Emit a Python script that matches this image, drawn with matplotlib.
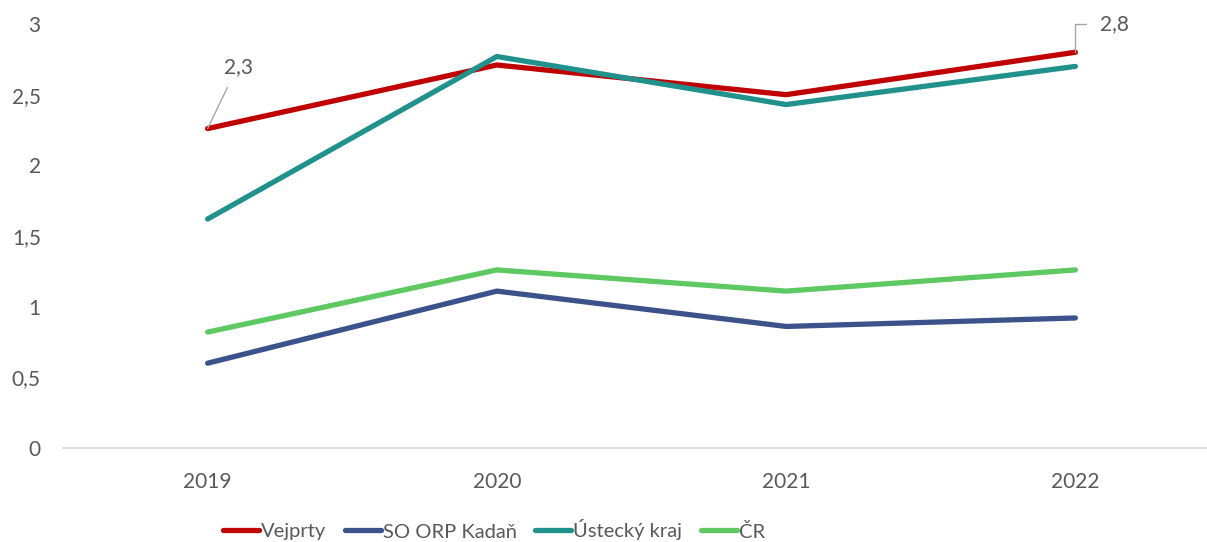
import matplotlib
matplotlib.use("Agg")
import matplotlib.pyplot as plt

# values
years = ["2019", "2020", "2021", "2022"]
vejprty = [2.26, 2.71, 2.50, 2.80]
so_orp_kadan = [0.60, 1.11, 0.86, 0.92]
ustecky_kraj = [1.62, 2.77, 2.43, 2.70]
cr = [0.82, 1.26, 1.11, 1.26]

series_names = ["Vejprty", "SO ORP Kadaň", "Ústecký kraj", "ČR"]
series_colors = ["#C00000", "#3B528B", "#21918C", "#5EC962"]

y_ticks = [0, 0.5, 1, 1.5, 2, 2.5, 3]
y_tick_labels = ["0", "0,5", "1", "1,5", "2", "2,5", "3"]

TEXT_COLOR = "#595959"
LEADER_COLOR = "#A6A6A6"

plt.rcParams["font.family"] = ["Lato", "DejaVu Sans"]

fig = plt.figure(figsize=(12.07, 5.42), dpi=100)
W, H = 1207.0, 542.0
# plot area runs past the right edge, like the cropped reference
ax = fig.add_axes([63 / W, 1 - 448 / H, (1220 - 63) / W, (448 - 24) / H])

x = list(range(len(years)))
all_series = [vejprty, so_orp_kadan, ustecky_kraj, cr]
for values, name, color in zip(all_series, series_names, series_colors):
    ax.plot(x, values, color=color, linewidth=3.8, solid_capstyle="round",
            label=name, clip_on=False)

ax.set_xlim(-0.5, 3.5)
ax.set_ylim(0, 3)
ax.set_xticks(x)
ax.set_xticklabels(years)
ax.set_yticks(y_ticks)
ax.set_yticklabels(y_tick_labels)
ax.tick_params(axis="both", length=0, labelsize=15, colors=TEXT_COLOR)
ax.tick_params(axis="x", pad=17)
ax.tick_params(axis="y", pad=16)

for side in ["top", "right", "left"]:
    ax.spines[side].set_visible(False)
ax.spines["bottom"].set_color("#D9D9D9")
ax.spines["bottom"].set_linewidth(1.2)

# data labels with leader lines
ax.annotate("2,3", xy=(0, vejprty[0]), xytext=(22, 37),
            textcoords="offset points", fontsize=15, color=TEXT_COLOR,
            ha="center", va="bottom",
            arrowprops=dict(arrowstyle="-", color=LEADER_COLOR, lw=1.0,
                            shrinkA=6, shrinkB=0,
                            relpos=(0.3, 0.0)))
ax.annotate("2,8", xy=(3, vejprty[3]), xytext=(18, 20),
            textcoords="offset points", fontsize=15, color=TEXT_COLOR,
            ha="left", va="center",
            arrowprops=dict(arrowstyle="-", color=LEADER_COLOR, lw=1.0,
                            shrinkA=8, shrinkB=0,
                            connectionstyle="angle,angleA=180,angleB=90,rad=0"))

leg = fig.legend(loc="center", bbox_to_anchor=(494 / W, 1 - 530 / H),
                 ncol=4, frameon=False, fontsize=14.5, handlelength=1.8,
                 handletextpad=0.1, columnspacing=0.9, borderpad=0.2)
for text in leg.get_texts():
    text.set_color(TEXT_COLOR)

fig.savefig("out.png", dpi=100)
